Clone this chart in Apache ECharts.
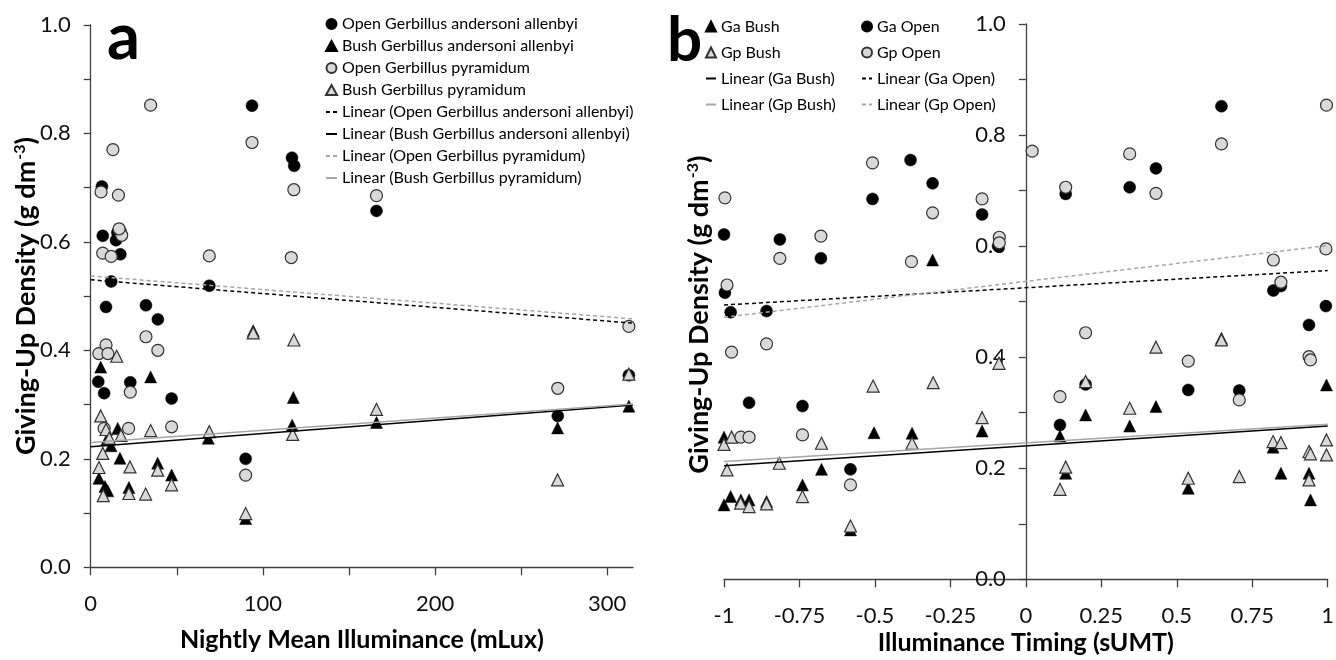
<!DOCTYPE html>
<html>
<head>
<meta charset="utf-8">
<script src="https://cdn.jsdelivr.net/npm/echarts@6/dist/echarts.min.js"></script>
<style>
html,body{margin:0;padding:0;background:#fff;}
#c{width:1336px;height:660px;}
</style>
</head>
<body>
<div id="c"></div>
<script>
// ---------- Panel a : Nightly Mean Illuminance (mLux) ----------
const aOpenGa = [[6.5,0.702],[7,0.611],[14.7,0.603],[15.5,0.617],[17.2,0.577],[11.9,0.527],[8.9,0.480],[32.1,0.483],[39,0.457],[68.9,0.519],[93.7,0.851],[116.9,0.755],[118.2,0.740],[166,0.657],[4.4,0.342],[7.8,0.321],[23,0.341],[47,0.311],[90,0.200],[271.3,0.279],[312.6,0.354]];
const aBushGa = [[5.8,0.369],[34.8,0.351],[15.7,0.256],[11.8,0.224],[9.3,0.235],[17,0.201],[4.8,0.164],[8.3,0.149],[9.9,0.141],[22.2,0.147],[38.9,0.192],[47,0.170],[68.3,0.238],[117.7,0.313],[117,0.262],[94.4,0.436],[90,0.090],[166,0.267],[271.2,0.257],[312.6,0.297]];
const aOpenGp = [[34.8,0.852],[12.9,0.770],[6,0.692],[16.1,0.686],[17.2,0.619],[18,0.612],[16.5,0.624],[7,0.579],[11.9,0.573],[68.9,0.574],[93.7,0.783],[118,0.696],[116.5,0.571],[166,0.685],[312.6,0.444],[4.7,0.394],[8.9,0.410],[10,0.394],[32.1,0.425],[39,0.400],[23,0.323],[7.8,0.256],[22,0.256],[47,0.259],[90,0.170],[271.3,0.330]];
const aBushGp = [[15.1,0.389],[5.8,0.279],[8.9,0.254],[17.6,0.243],[34.8,0.252],[10.8,0.238],[7,0.210],[4.8,0.184],[22.8,0.185],[38.9,0.179],[7.3,0.132],[22.2,0.136],[31.9,0.135],[47,0.152],[68.9,0.250],[94.4,0.432],[118,0.419],[117.3,0.245],[90,0.099],[166,0.291],[271.2,0.161],[312.6,0.356]];
// trend line end values at x = 0 and x = 315
const aTrendX = [0, 315];
const aTrendOpenGa = [0.530, 0.450];
const aTrendBushGa = [0.222, 0.299];
const aTrendOpenGp = [0.537, 0.458];
const aTrendBushGp = [0.230, 0.301];
const aXTicks = [0,50,100,150,200,250,300];
const aXLabels = [0,100,200,300];

// ---------- Panel b : Illuminance Timing (sUMT) ----------
const bOpenGa = [[-0.382,0.755],[-0.309,0.713],[-0.508,0.685],[-0.145,0.657],[-1.0,0.621],[-0.815,0.612],[-0.679,0.578],[-0.997,0.516],[-0.978,0.481],[-0.859,0.483],[-0.092,0.600],[0.132,0.694],[0.344,0.706],[0.431,0.740],[0.648,0.852],[0.820,0.520],[0.845,0.528],[0.994,0.492],[0.938,0.458],[0.538,0.341],[0.707,0.340],[0.198,0.351],[0.113,0.278],[-0.917,0.318],[-0.740,0.312],[-0.581,0.198]];
const bBushGa = [[-0.309,0.575],[0.996,0.350],[0.198,0.296],[0.431,0.311],[0.344,0.276],[0.113,0.258],[0.132,0.191],[0.538,0.164],[0.819,0.238],[0.845,0.191],[0.938,0.191],[0.943,0.143],[0.648,0.434],[-1.0,0.256],[-1.0,0.134],[-0.978,0.149],[-0.944,0.143],[-0.917,0.143],[-0.859,0.140],[-0.740,0.170],[-0.677,0.198],[-0.503,0.264],[-0.377,0.263],[-0.145,0.267],[-0.581,0.089]];
const bOpenGp = [[-0.997,0.687],[-0.508,0.750],[-0.309,0.660],[-0.145,0.685],[-0.815,0.578],[-0.679,0.618],[-0.379,0.572],[-0.99,0.530],[-0.088,0.616],[-0.088,0.606],[0.021,0.771],[0.132,0.706],[0.344,0.766],[0.431,0.695],[0.648,0.784],[0.996,0.854],[0.994,0.595],[0.820,0.575],[0.845,0.535],[0.198,0.444],[0.538,0.393],[0.938,0.401],[0.943,0.395],[0.113,0.329],[0.707,0.323],[-0.975,0.409],[-0.859,0.424],[-0.944,0.256],[-0.917,0.256],[-0.740,0.260],[-0.581,0.170]];
const bBushGp = [[0.198,0.356],[0.431,0.418],[0.344,0.308],[0.648,0.431],[0.113,0.162],[0.132,0.202],[0.538,0.182],[0.707,0.185],[0.819,0.248],[0.845,0.246],[0.938,0.230],[0.943,0.226],[0.938,0.179],[0.996,0.251],[0.996,0.224],[-0.089,0.389],[-1.0,0.243],[-0.975,0.256],[-0.99,0.197],[-0.945,0.137],[-0.917,0.131],[-0.859,0.136],[-0.817,0.209],[-0.740,0.149],[-0.677,0.245],[-0.581,0.096],[-0.506,0.348],[-0.377,0.245],[-0.307,0.354],[-0.145,0.291]];
const bTrendX = [-1, 1];
const bTrendOpenGa = [0.494, 0.556];
const bTrendOpenGp = [0.472, 0.601];
const bTrendBushGa = [0.2046, 0.276];
const bTrendBushGp = [0.212, 0.279];
const bXTicks = [-1,-0.75,-0.5,-0.25,0,0.25,0.5,0.75,1];

const yTicks = [0,0.1,0.2,0.3,0.4,0.5,0.6,0.7,0.8,0.9,1.0];
const yLabels = [0,0.2,0.4,0.6,0.8,1.0];

const FONT = 'Lato';
const AX = '#404040';
const GRAYFILL = '#d9d9d9';
const GRAYLINE = '#a6a6a6';

// layout of the two plot areas
const G1 = {left:90.7, top:24.8, width:542.3, height:542.5};
const G2 = {left:724, top:24, width:603.7, height:555.3};
const xMinB = -1, xMaxB = 1;
// panel b: y axis drawn where x = 0
const bYAxisOffset = -G2.width * (0 - xMinB) / (xMaxB - xMinB);

function pair(xs, ys){ return xs.map((x,i)=>[x, ys[i]]); }

function yAxisCfg(grid, extra){
  return Object.assign({
    type:'value', gridIndex:grid, min:0, max:1, position:'left',
    splitLine:{show:false},
    axisLine:{show:true, onZero:false, lineStyle:{color:AX, width:1.3}},
    axisTick:{show:true, length:7, lineStyle:{color:AX, width:1.3}, customValues: yTicks},
    axisLabel:{fontFamily:FONT, fontSize:22, color:'#111', margin:20, customValues: yLabels,
      formatter: v => (+v).toFixed(1)},
    name:'Giving-Up Density (g dm{sup|-3})',
    nameLocation:'middle',
    nameMoveOverlap:false
  }, extra);
}
function yNameStyle(pad){
  return {fontFamily:FONT, fontSize:27, fontWeight:'bold', color:'#000', lineHeight:29, padding:pad,
    rich:{sup:{fontFamily:FONT, fontSize:16, fontWeight:'bold', color:'#000', verticalAlign:'top', lineHeight:29, padding:[0,0,12,1]}}};
}
function xAxisCfg(grid, extra){
  return Object.assign({
    type:'value', gridIndex:grid,
    splitLine:{show:false},
    axisLine:{show:true, onZero:false, lineStyle:{color:AX, width:1.3}},
    nameLocation:'middle',
    nameMoveOverlap:false,
    nameTextStyle:{fontFamily:FONT, fontSize:25, fontWeight:'bold', color:'#000'}
  }, extra);
}
function sc(name, data, xi, symbol, filled){
  return {type:'scatter', name, data, xAxisIndex:xi, yAxisIndex:xi, symbol, symbolSize: 12,
    itemStyle: filled ? {color:'#000', borderColor:'#000', borderWidth:0.5, opacity:1}
                      : {color:GRAYFILL, borderColor:'#333', borderWidth:1.2, opacity:1},
    emphasis:{disabled:true}, z:2};
}
function tl(name, data, xi, color, dashed){
  return {type:'line', name, data, xAxisIndex:xi, yAxisIndex:xi, symbol:'none', showSymbol:false,
    lineStyle:{color, width:1.5, type: dashed ? [4,3] : 'solid'}, itemStyle:{color},
    emphasis:{disabled:true}, z:3, silent:true};
}
// legend entries: trend lines show only their line (no marker)
function lineItem(name){ return {name, itemStyle:{opacity:0, color:'rgba(0,0,0,0)', borderWidth:0}}; }

const chart = echarts.init(document.getElementById('c'), null, {renderer:'canvas'});
const legendText = {fontFamily:FONT, color:'#000'};
chart.setOption({
  animation:false,
  backgroundColor:'#fff',
  title:[
    {text:'a', left:107, top:6, padding:0, textStyle:{fontFamily:FONT, fontSize:65, fontWeight:'bold', color:'#000'}},
    {text:'b', left:667, top:10, padding:0, textStyle:{fontFamily:FONT, fontSize:62, fontWeight:'bold', color:'#000'}}
  ],
  grid:[
    Object.assign({outerBoundsMode:'none', containLabel:false}, G1),
    Object.assign({outerBoundsMode:'none', containLabel:false}, G2)
  ],
  xAxis:[
    xAxisCfg(0, {min:0, max:315, name:'Nightly Mean Illuminance (mLux)', nameGap:60,
      axisTick:{show:true, length:8, lineStyle:{color:AX, width:1.3}, customValues:aXTicks},
      axisLabel:{fontFamily:FONT, fontSize:22, color:'#111', margin:26, customValues:aXLabels}}),
    xAxisCfg(1, {min:xMinB, max:xMaxB, name:'Illuminance Timing (sUMT)', nameGap:51,
      axisTick:{show:true, length:8, lineStyle:{color:AX, width:1.3}, customValues:bXTicks},
      axisLabel:{fontFamily:FONT, fontSize:22, color:'#111', margin:26, customValues:bXTicks}})
  ],
  yAxis:[
    yAxisCfg(0, {nameGap:50, nameTextStyle:yNameStyle(0)}),
    yAxisCfg(1, {offset:bYAxisOffset, nameGap:312, nameTextStyle:yNameStyle([0,26,0,0])})
  ],
  legend:[
    {orient:'vertical', left:325, top:16, padding:0, itemGap:6, itemWidth:11, itemHeight:10,
      textStyle:Object.assign({fontSize:16, lineHeight:16}, legendText),
      selectedMode:false,
      data:['Open Gerbillus andersoni allenbyi','Bush Gerbillus andersoni allenbyi','Open Gerbillus pyramidum','Bush Gerbillus pyramidum',
            lineItem('Linear (Open Gerbillus andersoni allenbyi)'),lineItem('Linear (Bush Gerbillus andersoni allenbyi)'),
            lineItem('Linear (Open Gerbillus pyramidum)'),lineItem('Linear (Bush Gerbillus pyramidum)')]},
    {orient:'vertical', left:705, top:18, padding:0, itemGap:9, itemWidth:10, itemHeight:10,
      textStyle:Object.assign({fontSize:16, lineHeight:17}, legendText), selectedMode:false,
      data:['Ga Bush','Gp Bush',lineItem('Linear (Ga Bush)'),lineItem('Linear (Gp Bush)')]},
    {orient:'vertical', left:861, top:18, padding:0, itemGap:9, itemWidth:10, itemHeight:10,
      textStyle:Object.assign({fontSize:16, lineHeight:17}, legendText), selectedMode:false,
      data:['Ga Open','Gp Open',lineItem('Linear (Ga Open)'),lineItem('Linear (Gp Open)')]}
  ],
  series:[
    sc('Open Gerbillus andersoni allenbyi', aOpenGa, 0, 'circle', true),
    sc('Bush Gerbillus andersoni allenbyi', aBushGa, 0, 'triangle', true),
    sc('Open Gerbillus pyramidum', aOpenGp, 0, 'circle', false),
    sc('Bush Gerbillus pyramidum', aBushGp, 0, 'triangle', false),
    tl('Linear (Open Gerbillus andersoni allenbyi)', pair(aTrendX, aTrendOpenGa), 0, '#000', true),
    tl('Linear (Bush Gerbillus andersoni allenbyi)', pair(aTrendX, aTrendBushGa), 0, '#000', false),
    tl('Linear (Open Gerbillus pyramidum)', pair(aTrendX, aTrendOpenGp), 0, GRAYLINE, true),
    tl('Linear (Bush Gerbillus pyramidum)', pair(aTrendX, aTrendBushGp), 0, GRAYLINE, false),

    sc('Ga Bush', bBushGa, 1, 'triangle', true),
    sc('Ga Open', bOpenGa, 1, 'circle', true),
    sc('Gp Bush', bBushGp, 1, 'triangle', false),
    sc('Gp Open', bOpenGp, 1, 'circle', false),
    tl('Linear (Ga Bush)', pair(bTrendX, bTrendBushGa), 1, '#000', false),
    tl('Linear (Gp Bush)', pair(bTrendX, bTrendBushGp), 1, GRAYLINE, false),
    tl('Linear (Ga Open)', pair(bTrendX, bTrendOpenGa), 1, '#000', true),
    tl('Linear (Gp Open)', pair(bTrendX, bTrendOpenGp), 1, GRAYLINE, true)
  ]
});
</script>
</body>
</html>
